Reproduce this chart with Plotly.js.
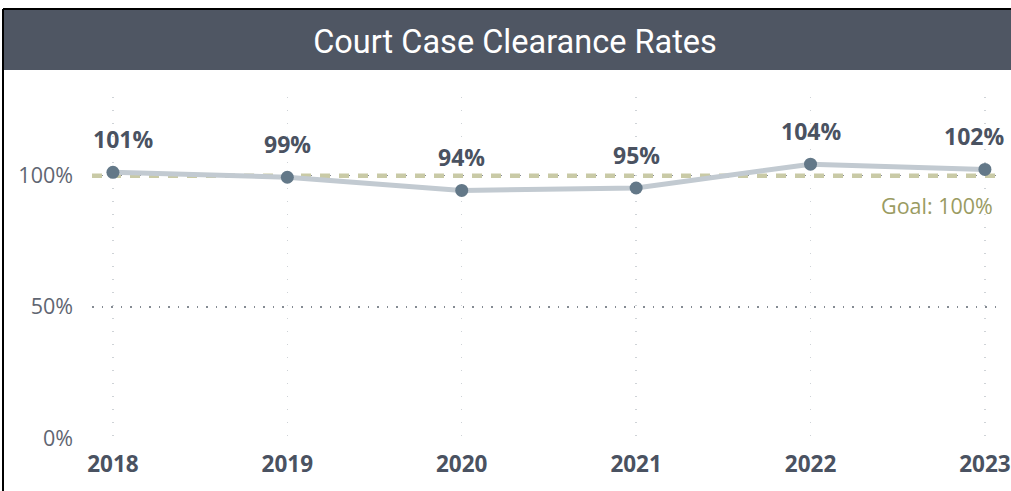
<!DOCTYPE html>
<html><head><meta charset="utf-8">
<script src="https://cdn.plot.ly/plotly-3.0.1.min.js"></script>
<style>html,body{margin:0;padding:0;background:#fff;}#chart{width:1011px;height:491px;}</style>
</head><body><div id="chart"></div>
<script>
const years = [2018, 2019, 2020, 2021, 2022, 2023];
const clearanceRates = [101.3, 99.4, 94.4, 95.3, 104.4, 102.4];
const goalValue = 100;
const yTickVals = [0, 50, 100];
const yTickText = ['0%', '50%', '100%'];

const W = 1011, H = 491, L = 92, R = 13, T = 97, B = 53;
const pw = W - L - R, ph = H - T - B;
const px = v => (v - L) / pw;
const py = v => (H - B - v) / ph;
const FONT = 'Open Sans, Noto Sans, sans-serif';

const goalTrace = {
  x: [2017.88, 2023.075], y: [goalValue, goalValue], mode: 'lines',
  line: {color: '#c9caa6', width: 4.5, dash: '10px,9px'}, hoverinfo: 'skip', showlegend: false
};
const rateTrace = {
  x: years, y: clearanceRates, mode: 'lines+markers',
  line: {color: '#c2cad1', width: 5},
  marker: {color: '#637888', size: 13},
  cliponaxis: false, showlegend: false
};

const labelAnnotations = years.map((yr, i) => ({
  xref: 'x', yref: 'y', x: yr, y: clearanceRates[i], yshift: 33,
  xshift: i === 0 ? 10 : (i === years.length - 1 ? -11 : 0),
  xanchor: 'center', yanchor: 'middle',
  text: Math.round(clearanceRates[i]) + '%', showarrow: false,
  font: {family: FONT, size: 23, color: '#4a5261', weight: 700}
}));

const layout = {
  width: W, height: H,
  margin: {l: L, r: R, t: T, b: B},
  paper_bgcolor: '#fff', plot_bgcolor: '#fff',
  font: {family: FONT},
  title: {text: 'Court Case Clearance Rates', x: 515 / W, xanchor: 'center', y: 1 - 42 / H, yanchor: 'middle',
          font: {family: 'Roboto, sans-serif', size: 32.5, color: '#ffffff'}},
  xaxis: {range: [2017.88, 2023.075], tickvals: years, ticktext: years.map(String),
          showgrid: true, gridcolor: '#cfd3d7', griddash: '1px,12px', gridwidth: 1.5, zeroline: false,
          showline: false, ticks: '', ticklabelstandoff: 10, ticklabeloverflow: 'allow',
          tickfont: {size: 22.5, color: '#4a5261', weight: 700}},
  yaxis: {range: [0, 130], tickvals: yTickVals, ticktext: yTickText,
          showgrid: true, gridcolor: '#858b93', griddash: '1.5px,8px', gridwidth: 1.5, zeroline: false,
          showline: false, ticks: '', ticklabelstandoff: 18,
          tickfont: {size: 21.5, color: '#5f6672'}},
  shapes: [
    {type: 'rect', xref: 'paper', yref: 'paper', x0: px(4), x1: px(1012), y0: py(70), y1: py(10),
     fillcolor: '#4f5663', line: {width: 0}, layer: 'below'},
    {type: 'line', xref: 'paper', yref: 'paper', x0: px(3), x1: px(3), y0: py(9), y1: py(492),
     line: {color: '#000', width: 2}},
    {type: 'line', xref: 'paper', yref: 'paper', x0: px(3), x1: px(1012), y0: py(9), y1: py(9),
     line: {color: '#000', width: 2}}
  ],
  annotations: labelAnnotations.concat([
    {xref: 'paper', yref: 'y', x: px(995), y: goalValue, xanchor: 'right', yanchor: 'middle', yshift: -30,
     text: 'Goal: 100%', showarrow: false, font: {family: FONT, size: 21.5, color: '#9a9b62'}}
  ])
};

Plotly.newPlot('chart', [goalTrace, rateTrace], layout, {displayModeBar: false, staticPlot: true});
</script></body></html>
